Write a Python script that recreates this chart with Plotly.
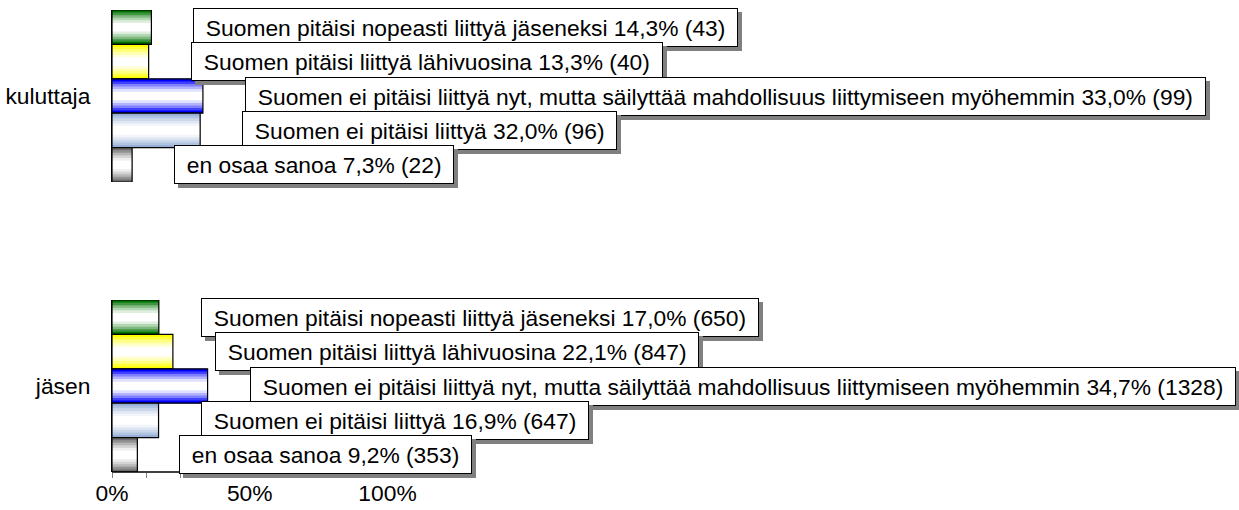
import plotly.graph_objects as go

# ---- data ----
categories = ["kuluttaja", "jäsen"]
series_names = [
    "Suomen pitäisi nopeasti liittyä jäseneksi",
    "Suomen pitäisi liittyä lähivuosina",
    "Suomen ei pitäisi liittyä nyt, mutta säilyttää mahdollisuus liittymiseen myöhemmin",
    "Suomen ei pitäisi liittyä",
    "en osaa sanoa",
]
kuluttaja_pct = [14.3, 13.3, 33.0, 32.0, 7.3]
kuluttaja_n = [43, 40, 99, 96, 22]
jasen_pct = [17.0, 22.1, 34.7, 16.9, 9.2]
jasen_n = [650, 847, 1328, 647, 353]
tick_values = [0, 12.5, 25, 37.5, 50, 62.5, 75, 87.5, 100, 112.5, 125]
tick_text = ["0%", "", "", "", "50%", "", "", "", "100%", "", ""]

# ---- styles ----
base_colors = [(0, 115, 0), (255, 255, 0), (0, 0, 255), (150, 175, 215), (110, 110, 110)]
layer_fracs = [1.0, 0.85, 0.7, 0.55, 0.4, 0.25]
layer_mix = [0.0, 0.25, 0.5, 0.7, 0.88, 1.0]
FONT = "Liberation Sans, Arial, sans-serif"
FS = 22.8
W, H = 1239, 510


def mix(c, t):
    r, g, b = (int(round(v + (255 - v) * t)) for v in c)
    return f"rgb({r},{g},{b})"


fig = go.Figure()
panels = [
    (categories[0], kuluttaja_pct, kuluttaja_n, "x", "y"),
    (categories[1], jasen_pct, jasen_n, "x2", "y2"),
]
slot = 0.2
annotations = []
for cat, pcts, ns, xa, ya in panels:
    for i, (name, p, n) in enumerate(zip(series_names, pcts, ns)):
        center = 0.4 - slot * i
        for f, t in zip(layer_fracs, layer_mix):
            w = slot * f
            fig.add_trace(go.Bar(
                x=[p], y=[cat], orientation="h", width=w, offset=center - w / 2,
                marker=dict(color=mix(base_colors[i], t), line=dict(width=0)),
                xaxis=xa, yaxis=ya, showlegend=False, hoverinfo="skip",
            ))
        fig.add_trace(go.Bar(
            x=[p], y=[cat], orientation="h", width=slot, offset=center - slot / 2,
            marker=dict(color="rgba(0,0,0,0)", line=dict(color="black", width=1.2)),
            xaxis=xa, yaxis=ya, showlegend=False, name=name,
        ))
        label = f"\u00a0{name} {p:.1f}".replace(".", ",") + f"% ({n})\u00a0"
        common = dict(x=p, y=center, xref=xa, yref=ya, text=label, showarrow=False,
                      xanchor="left", yanchor="middle", borderwidth=1, borderpad=5.5)
        sh = dict(common)
        sh.update(xshift=46, yshift=-4, bgcolor="#808080", bordercolor="#808080",
                  font=dict(family=FONT, size=FS, color="#808080"))
        annotations.append(sh)
        mn = dict(common)
        mn.update(xshift=42, bgcolor="white", bordercolor="black",
                  font=dict(family=FONT, size=FS, color="black"))
        annotations.append(mn)

x0 = 112 / W
xrange_max = (W - 112) / 2.755
top_dom = [1 - 182 / H, 1 - 10 / H]
bot_dom = [1 - 472 / H, 1 - 300 / H]

yax = dict(range=[-0.5, 0.5], showline=True, linecolor="black", linewidth=1.2,
           ticks="", showgrid=False, zeroline=False, ticklabelstandoff=16,
           automargin=False,
           tickfont=dict(family=FONT, size=FS, color="black"), fixedrange=True)

fig.update_layout(
    width=W, height=H,
    margin=dict(l=0, r=0, t=0, b=0, autoexpand=False),
    paper_bgcolor="white", plot_bgcolor="white",
    barmode="overlay",
    font=dict(family=FONT, size=FS, color="black"),
    xaxis=dict(domain=[x0, 1], range=[0, xrange_max], anchor="y", visible=False,
               automargin=False),
    yaxis=dict(domain=top_dom, anchor="x", **yax),
    xaxis2=dict(domain=[x0, 1], range=[0, xrange_max], anchor="y2", showline=False,
                showgrid=False, zeroline=False, tickvals=tick_values, ticktext=tick_text,
                ticks="outside", ticklen=5, tickcolor="#808080", tickwidth=1,
                automargin=False, ticklabelstandoff=-4,
                tickfont=dict(family=FONT, size=FS, color="black")),
    yaxis2=dict(domain=bot_dom, anchor="x2", **yax),
    annotations=annotations,
    shapes=[dict(type="line", xref="x2", yref="y2 domain", x0=0, x1=tick_values[-1],
                 y0=0, y1=0, line=dict(color="black", width=1.5), layer="above")],
)

fig.write_html(
    "out.html",
    config={"displayModeBar": False},
    post_script="document.body.style.margin='0';document.body.style.overflow='hidden';",
)
